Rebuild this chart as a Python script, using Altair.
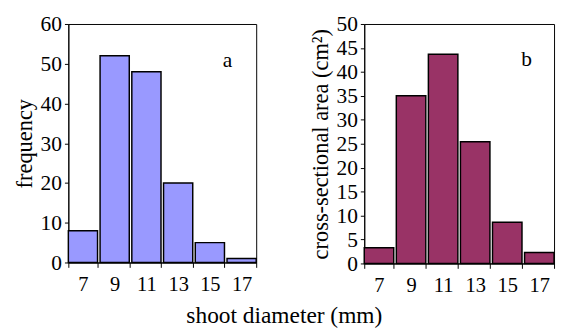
import altair as alt
import pandas as pd

diam = ["7", "9", "11", "13", "15", "17"]
freq = [8, 52, 48, 20, 5, 1]
area = [3.3, 35, 43.7, 25.4, 8.6, 2.3]

dfa = pd.DataFrame({"d": diam, "v": freq})
dfb = pd.DataFrame({"d": diam, "v": area})
lab_a = pd.DataFrame({"d": ["15"], "v": [51], "t": ["a"]})
lab_b = pd.DataFrame({"d": ["15"], "v": [42.6], "t": ["b"]})

FONT = "Liberation Serif"

def panel(df, lab, color, ymax, step, ytitle, w, h, dx):
    xenc = alt.X("d:O", sort=diam, title=None,
                 scale=alt.Scale(paddingInner=0.08, paddingOuter=0),
                 axis=alt.Axis(labelAngle=0, tickBand="extent", labelPadding=7, tickSize=5,
                               labelFontSize=21))
    yenc = alt.Y("v:Q", title=ytitle,
                 scale=alt.Scale(domain=[0, ymax], nice=False),
                 axis=alt.Axis(values=list(range(0, ymax + 1, step)), tickSize=4,
                               labelPadding=3, titlePadding=4, labelOverlap=False,
                               labelFontSize=22))
    bars = alt.Chart(df).mark_bar(color=color, stroke="black", strokeWidth=1.5).encode(x=xenc, y=yenc)
    txt = alt.Chart(lab).mark_text(font=FONT, fontSize=22, dx=dx, color="black").encode(
        x=xenc, y=yenc, text="t:N")
    return alt.layer(bars, txt).properties(width=w, height=h)

pa = panel(dfa, lab_a, "#9999ff", 60, 10, "frequency", 193, 245, 18)
pb = panel(dfb, lab_b, "#993366", 50, 5, "cross-sectional area (cm²)", 195, 246, 20)

chart = alt.hconcat(pa, pb, spacing=52).properties(
    padding={"left": 5, "top": 0, "right": 0, "bottom": 0},
    title=alt.TitleParams("shoot diameter (mm)", orient="bottom", anchor="middle",
                          font=FONT, fontSize=24, fontWeight="normal", offset=9, color="black")
).configure(background="white").configure_view(stroke="black", strokeWidth=1).configure_axis(
    labelFont=FONT, labelColor="black", titleFont=FONT, titleFontSize=23,
    titleFontWeight="normal", titleColor="black", domainColor="black", tickColor="black",
    grid=False, domainWidth=1, tickWidth=1
)

chart.save("out.html", embed_options={"renderer": "svg", "actions": False})
